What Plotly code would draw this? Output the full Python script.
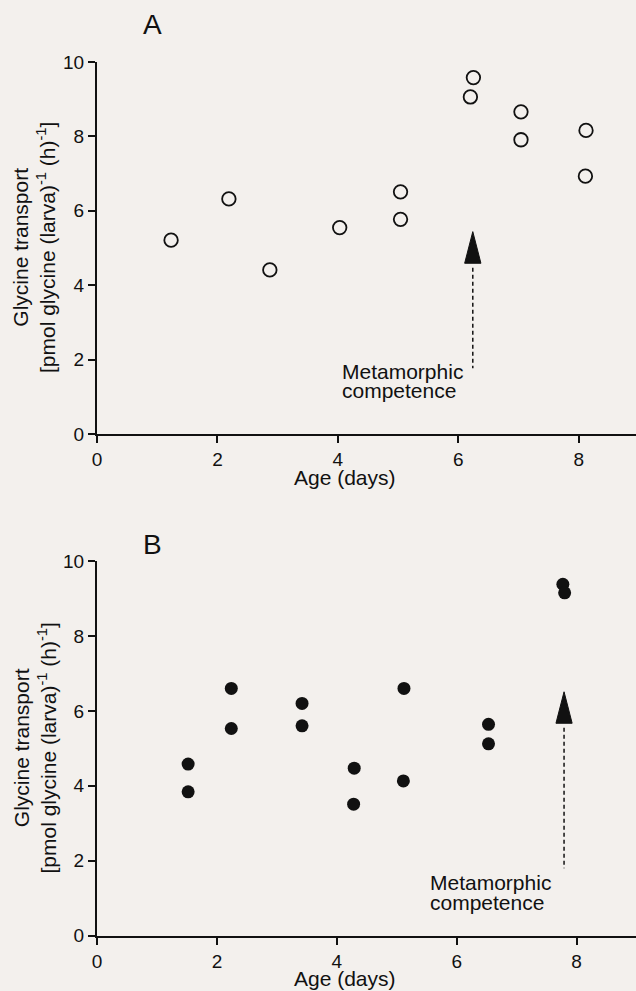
import plotly.graph_objects as go

# ---- data ----
age_A = [1.23, 2.19, 2.87, 4.03, 5.04, 5.04, 6.25, 6.20, 7.04, 7.04, 8.12, 8.11]
transport_A = [5.21, 6.32, 4.41, 5.55, 6.51, 5.77, 9.58, 9.06, 8.66, 7.91, 8.16, 6.93]

age_B = [1.52, 1.52, 2.24, 2.24, 3.42, 3.42, 4.29, 4.28, 5.12, 5.11, 6.53, 6.53, 7.77, 7.80]
transport_B = [4.58, 3.84, 6.60, 5.53, 6.20, 5.60, 4.47, 3.51, 6.60, 4.13, 5.64, 5.12, 9.38, 9.15]

x_ticks = [0, 2, 4, 6, 8]
y_ticks = [0, 2, 4, 6, 8, 10]

# metamorphic competence arrows: age, tip, head base, tail (data units)
comp_A = dict(age=6.24, tip=5.44, base=4.59, tail=1.77)
comp_B = dict(age=7.79, tip=6.51, base=5.67, tail=1.80)

W, H = 636, 991
BG = "#f3f0ed"
INK = "#111111"
FONT = "Liberation Sans, Arial, Helvetica, sans-serif"


def px_x(p):
    return p / W


def px_y(p):
    return 1 - p / H


fig = go.Figure()

fig.add_trace(go.Scatter(
    x=age_A, y=transport_A, mode="markers", xaxis="x", yaxis="y",
    marker=dict(symbol="circle-open", size=13.5, color=INK, line=dict(width=1.8, color=INK)),
    showlegend=False, cliponaxis=False))

fig.add_trace(go.Scatter(
    x=age_B, y=transport_B, mode="markers", xaxis="x2", yaxis="y2",
    marker=dict(symbol="circle", size=13, color=INK, line=dict(width=0)),
    showlegend=False, cliponaxis=False))

axis_common = dict(
    showgrid=False, zeroline=False, showline=True, linecolor=INK, linewidth=2,
    ticks="outside", ticklen=7, tickwidth=1.5, tickcolor=INK, automargin=False,
    tickfont=dict(family=FONT, size=19, color=INK),
)

fig.update_layout(
    width=W, height=H,
    margin=dict(l=0, r=0, t=0, b=0, pad=0, autoexpand=False),
    paper_bgcolor=BG, plot_bgcolor=BG,
    font=dict(family=FONT, color=INK),
    xaxis=dict(domain=[px_x(97), 1], range=[0, 8.95], anchor="y",
               tickvals=x_ticks, **axis_common),
    yaxis=dict(domain=[px_y(434), px_y(62)], range=[0, 10], anchor="x",
               tickvals=y_ticks, **axis_common),
    xaxis2=dict(domain=[px_x(97), 1], range=[0, 8.99], anchor="y2",
                tickvals=x_ticks, **axis_common),
    yaxis2=dict(domain=[px_y(935.7), px_y(561)], range=[0, 10], anchor="x2",
                tickvals=y_ticks, **axis_common),
)

shapes = []
for comp, xr, yr in [(comp_A, "x", "y"), (comp_B, "x2", "y2")]:
    hw = 0.135
    shapes.append(dict(
        type="path", xref=xr, yref=yr,
        path=f"M {comp['age']-hw},{comp['base']} L {comp['age']+hw},{comp['base']} L {comp['age']},{comp['tip']} Z",
        fillcolor=INK, line=dict(color=INK, width=1)))
    shapes.append(dict(
        type="line", xref=xr, yref=yr,
        x0=comp["age"], x1=comp["age"], y0=comp["base"] - 0.12, y1=comp["tail"],
        line=dict(color=INK, width=1.5, dash="4px,3px")))
fig.update_layout(shapes=shapes)

ann = []
title_font = dict(family=FONT, size=21, color=INK)
ytitle = "Glycine transport<br>[pmol glycine (larva)<sup>-1</sup> (h)<sup>-1</sup>]"
for label, lab_y, ymid, xt_y in [("A", 24.5, 248, 477), ("B", 544, 748.5, 978)]:
    ann.append(dict(text=label, x=px_x(152.5), y=px_y(lab_y), xref="paper", yref="paper",
                    showarrow=False, xanchor="center", yanchor="middle",
                    font=dict(family=FONT, size=28, color=INK)))
    ann.append(dict(text=ytitle, x=px_x(34), y=px_y(ymid), xref="paper", yref="paper",
                    showarrow=False, xanchor="center", yanchor="middle", textangle=-90,
                    font=title_font))
    ann.append(dict(text="Age (days)", x=px_x(345), y=px_y(xt_y), xref="paper", yref="paper",
                    showarrow=False, xanchor="center", yanchor="middle", font=title_font))

for left, l1, l2 in [(340, 371, 391), (427.7, 882.5, 902.5)]:
    ann.append(dict(text="Metamorphic", x=px_x(left), y=px_y(l1), xref="paper", yref="paper",
                    showarrow=False, xanchor="left", yanchor="middle", font=title_font))
    ann.append(dict(text="competence", x=px_x(left), y=px_y(l2), xref="paper", yref="paper",
                    showarrow=False, xanchor="left", yanchor="middle", font=title_font))
fig.update_layout(annotations=ann)

fig.write_html("out.html")
